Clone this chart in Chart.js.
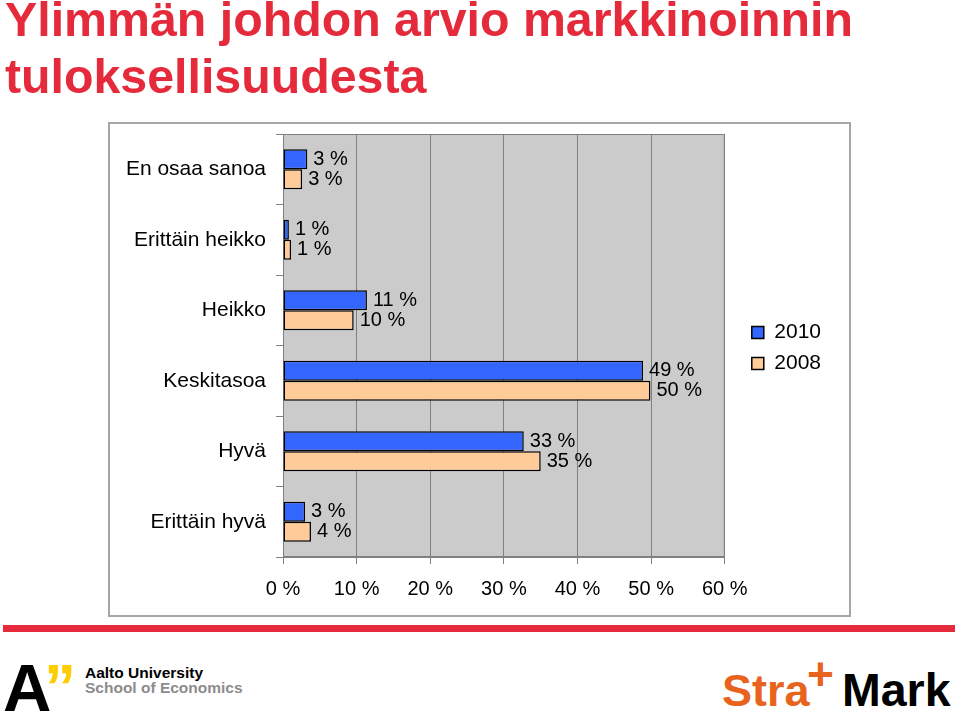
<!DOCTYPE html>
<html>
<head>
<meta charset="utf-8">
<script src="https://cdn.jsdelivr.net/npm/chart.js@4.4.1/dist/chart.umd.min.js"></script>
<style>
    body { margin:0; width:960px; height:714px; background:#fff; position:relative; overflow:hidden; font-family:'Liberation Sans', Arial, sans-serif; }
    .title { position:absolute; left:5px; top:-9.5px; font-size:48.3px; font-weight:bold; line-height:57.5px; color:#E52B3B; white-space:nowrap; }
    .frame { position:absolute; left:108px; top:122px; width:743px; height:495px; box-sizing:border-box; border:2px solid #A6A6A6; }
    .wrap { position:absolute; left:108px; top:122px; width:743px; height:495px; }
    .redline { position:absolute; left:3px; top:625px; width:952px; height:7px; background:#E52B3B; }
    .abs { position:absolute; white-space:nowrap; font-weight:bold; }
</style>
</head>
<body>
<div class="title">Ylimmän johdon arvio markkinoinnin<br>tuloksellisuudesta</div>
<div class="frame"></div>
<div class="wrap"><canvas id="c1"></canvas></div>
<div class="redline"></div>

<div class="abs" style="left:3px;top:655px;font-size:67px;line-height:66px;color:#000;">A</div>
<div class="abs" style="left:44px;top:658px;font-size:64px;line-height:60px;color:#FFCC00;">”</div>
<div class="abs" style="left:85px;top:665px;font-size:15.5px;line-height:15px;color:#000;">Aalto University</div>
<div class="abs" style="left:85px;top:680px;font-size:15.5px;line-height:15px;color:#8C8C8C;">School of Economics</div>

<div class="abs" style="left:722px;top:668px;font-size:45px;line-height:45px;color:#E8641E;">Stra</div>
<div class="abs" style="left:807px;top:651px;font-size:46px;line-height:46px;color:#E8641E;">+</div>
<div class="abs" style="left:842px;top:667px;font-size:46.5px;line-height:46px;color:#000;">Mark</div>

<script>
    const categories = ['En osaa sanoa', 'Erittäin heikko', 'Heikko', 'Keskitasoa', 'Hyvä', 'Erittäin hyvä'];
    const seriesNames = ['2010', '2008'];
    const values2010 = [3.3, 0.8, 11.4, 48.9, 32.7, 3.0];
    const values2008 = [2.6, 1.1, 9.6, 49.9, 35.0, 3.8];
    const xTicks = [0, 10, 20, 30, 40, 50, 60];

    const FONT = "'Liberation Sans', Arial, sans-serif";
    Chart.defaults.font.family = FONT;
    Chart.defaults.color = '#000';

    // grey plot background + border
    const plotBg = {
        id: 'plotBg',
        beforeDraw(chart) {
            const {ctx, chartArea: a} = chart;
            ctx.save();
            ctx.fillStyle = '#CBCBCB';
            ctx.fillRect(a.left, a.top, a.width, a.height);
            ctx.strokeStyle = '#808080';
            ctx.lineWidth = 1;
            ctx.strokeRect(a.left + 0.5, a.top + 0.5, a.width - 1, a.height - 1);
            ctx.restore();
        }
    };

    // "xx %" labels at bar ends
    const valueLabels = {
        id: 'valueLabels',
        afterDatasetsDraw(chart) {
            const ctx = chart.ctx;
            ctx.save();
            ctx.font = '20px ' + FONT;
            ctx.fillStyle = '#000';
            ctx.textAlign = 'left';
            ctx.textBaseline = 'middle';
            chart.data.datasets.forEach((ds, i) => {
                chart.getDatasetMeta(i).data.forEach((bar, j) => {
                    ctx.fillText(Math.round(ds.data[j]) + ' %', bar.x + 6, bar.y);
                });
            });
            ctx.restore();
        }
    };

    // push legend a bit away from the plot and up to the middle
    const legendNudge = {
        id: 'legendNudge',
        afterLayout(chart) {
            const l = chart.legend;
            l.left += 17; l.right += 17;
            l.top -= 27.5; l.bottom -= 27.5;
        }
    };

    new Chart(document.getElementById('c1').getContext('2d'), {
        type: 'bar',
        data: {
            labels: categories,
            datasets: [
                {label: seriesNames[0], data: values2010, backgroundColor: '#3366FF', borderColor: '#000', borderWidth: 1.5, borderSkipped: false, categoryPercentage: 0.567, barPercentage: 1},
                {label: seriesNames[1], data: values2008, backgroundColor: '#FFCC99', borderColor: '#000', borderWidth: 1.5, borderSkipped: false, categoryPercentage: 0.567, barPercentage: 1}
            ]
        },
        options: {
            indexAxis: 'y',
            responsive: true,
            maintainAspectRatio: false,
            animation: false,
            layout: {padding: {top: 12, left: 0, right: 37, bottom: 0}},
            plugins: {
                legend: {position: 'right', labels: {boxWidth: 12, boxHeight: 12, padding: 10, font: {size: 21}, color: '#000'}},
                tooltip: {enabled: false}
            },
            scales: {
                x: {
                    min: 0, max: 60,
                    afterBuildTicks: s => { s.ticks = xTicks.map(v => ({value: v})); },
                    afterFit: s => { s.height = 60; },
                    grid: {color: '#808080', tickLength: 7},
                    border: {color: '#808080'},
                    ticks: {font: {size: 20}, color: '#000', padding: 13, maxRotation: 0, callback: v => v + ' %'}
                },
                y: {
                    afterFit: s => { s.width = 175; s.paddingTop = 0; s.paddingBottom = 0; },
                    grid: {drawOnChartArea: false, tickLength: 7, color: '#808080'},
                    border: {color: '#808080'},
                    ticks: {font: {size: 21}, color: '#000', padding: 10}
                }
            }
        },
        plugins: [plotBg, valueLabels, legendNudge]
    });
</script>
</body>
</html>
